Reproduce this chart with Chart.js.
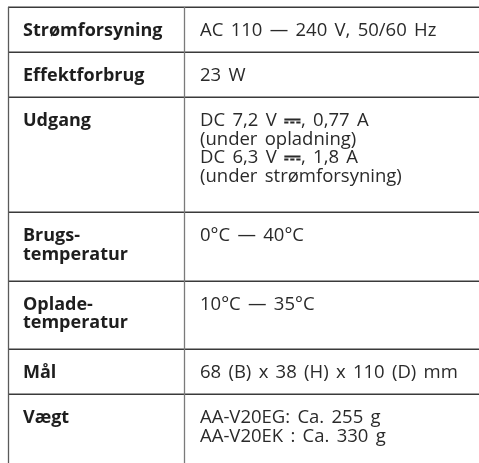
<!DOCTYPE html>
<html>
<head>
<meta charset="utf-8">
<script src="https://cdn.jsdelivr.net/npm/chart.js@4"></script>
<style>
  html, body { margin: 0; padding: 0; background: #ffffff; }
  #wrap { width: 479px; height: 463px; }
</style>
</head>
<body>
<div id="wrap"><canvas id="c" width="479" height="463"></canvas></div>
<script>
// ---- data ----
const labels = [
  ["Strømforsyning"],
  ["Effektforbrug"],
  ["Udgang"],
  ["Brugs-", "temperatur"],
  ["Oplade-", "temperatur"],
  ["Mål"],
  ["Vægt"]
];
const values = [
  ["AC 110 — 240 V, 50/60 Hz"],
  ["23 W"],
  ["DC 7,2 V ⎓, 0,77 A", "(under opladning)", "DC 6,3 V ⎓, 1,8 A", "(under strømforsyning)"],
  ["0°C — 40°C"],
  ["10°C — 35°C"],
  ["68 (B) x 38 (H) x 110 (D) mm"],
  ["AA-V20EG: Ca. 255 g", "AA-V20EK : Ca. 330 g"]
];

// ---- table drawing plugin ----
const tablePlugin = {
  id: 'specTable',
  afterDraw(chart) {
    const ctx = chart.ctx;
    const left = 8, right = 479, top = 7, colX = 184.5;
    const textL = 23, textR = 200;
    const lineH = 18.5, firstBase = 29;
    const font = '"Open Sans", "Noto Sans", sans-serif';
    const regFont = '18.5px ' + font;
    const symFont = 'bold 21px "DejaVu Sans", sans-serif';
    const extraSpace = 2.5;

    function drawLine(s, x, y) {
      const words = s.split(' ');
      let cx = x;
      words.forEach((w, idx) => {
        if (w.startsWith('⎓')) {
          ctx.font = symFont;
          ctx.fillText('⎓', cx, y + 1);
          cx += ctx.measureText('⎓').width;
          ctx.font = regFont;
          const rest = w.slice(1);
          ctx.fillText(rest, cx, y);
          cx += ctx.measureText(rest).width;
        } else {
          ctx.font = regFont;
          ctx.fillText(w, cx, y);
          cx += ctx.measureText(w).width;
        }
        if (idx < words.length - 1) {
          ctx.font = regFont;
          cx += ctx.measureText(' ').width + extraSpace;
        }
      });
    }

    ctx.save();
    const tops = [];
    let y = top;
    for (let i = 0; i < labels.length; i++) {
      tops.push(y);
      const n = Math.max(labels[i].length, values[i].length);
      y += 45 + (n - 1) * 23.4;
    }
    const bottom = 463;
    ctx.strokeStyle = '#3a3a3a';
    ctx.lineWidth = 1.5;
    tops.forEach(t => {
      const yy = Math.round(t) + 0.25;
      ctx.beginPath(); ctx.moveTo(left, yy); ctx.lineTo(right, yy); ctx.stroke();
    });
    ctx.strokeStyle = '#5a5a5a';
    ctx.lineWidth = 1.3;
    ctx.beginPath(); ctx.moveTo(left + 0.5, top); ctx.lineTo(left + 0.5, bottom); ctx.stroke();
    ctx.strokeStyle = '#7a7a7a';
    ctx.beginPath(); ctx.moveTo(colX, top); ctx.lineTo(colX, bottom); ctx.stroke();
    ctx.textBaseline = 'alphabetic';
    for (let i = 0; i < labels.length; i++) {
      const t = tops[i];
      ctx.fillStyle = '#1e1e1e';
      ctx.font = 'bold 18px ' + font;
      labels[i].forEach((s, k) => ctx.fillText(s, textL, t + firstBase + k * lineH));
      ctx.fillStyle = '#2a2a2a';
      values[i].forEach((s, k) => drawLine(s, textR, t + firstBase + k * lineH));
    }
    ctx.restore();
  }
};

new Chart(document.getElementById('c'), {
  type: 'bar',
  data: { labels: labels.map(l => l.join(' ')), datasets: [] },
  options: {
    responsive: false,
    animation: false,
    devicePixelRatio: 1,
    layout: { padding: 0 },
    plugins: { legend: { display: false }, tooltip: { enabled: false }, title: { display: false } },
    scales: { x: { display: false }, y: { display: false } }
  },
  plugins: [tablePlugin]
});
</script>
</body>
</html>
